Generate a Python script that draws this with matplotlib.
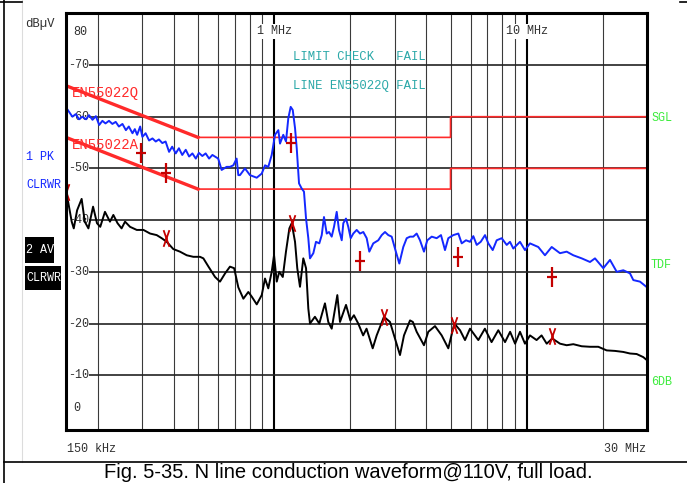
import matplotlib
matplotlib.use("Agg")
import matplotlib.pyplot as plt
from matplotlib.path import Path
from matplotlib.lines import Line2D
from matplotlib.patches import Rectangle

W, H = 687, 483

# limit lines EN55022 (MHz, dBuV)
limit_freq = [0.15, 0.5, 5.0, 5.0, 30.0]
limit_qp = [66, 56, 56, 60, 60]
limit_av = [56, 46, 46, 50, 50]

# trace 1: peak (blue)
pk_freq = [0.150, 0.154, 0.159, 0.164, 0.169, 0.174, 0.180, 0.185, 0.191, 0.197,
           0.203, 0.209, 0.215, 0.222, 0.229, 0.236, 0.243, 0.251, 0.259, 0.266,
           0.275, 0.281, 0.287, 0.295, 0.301, 0.310, 0.320, 0.330, 0.340, 0.350,
           0.361, 0.372, 0.384, 0.395, 0.408, 0.420, 0.433, 0.447, 0.461, 0.475,
           0.490, 0.504, 0.520, 0.536, 0.553, 0.570,
           0.601, 0.620, 0.649, 0.669, 0.690, 0.711, 0.722, 0.733, 0.767, 0.803,
           0.854, 0.894, 0.921, 0.949, 0.979, 1.009, 1.040, 1.056, 1.088, 1.115,
           1.139, 1.164, 1.186, 1.211, 1.230, 1.256, 1.287, 1.314, 1.339, 1.367,
           1.388, 1.431, 1.466, 1.511, 1.545, 1.577, 1.617, 1.651, 1.692, 1.728,
           1.771, 1.808, 1.854, 1.881, 1.927, 1.968, 2.012, 2.060, 2.125, 2.190,
           2.257, 2.328, 2.384, 2.472, 2.588, 2.670, 2.751, 2.835, 2.924, 3.013,
           3.134, 3.250, 3.353, 3.456, 3.561, 3.672, 3.785, 3.925, 4.046, 4.212,
           4.407, 4.584, 4.754, 4.900, 5.129, 5.369, 5.537, 5.758, 5.972, 6.155,
           6.349, 6.585, 6.849, 7.058, 7.346, 7.618, 7.973, 8.347, 8.600,
           8.863, 9.421, 9.860, 10.32, 11.13, 11.83, 12.58, 13.57, 14.42, 15.32,
           16.54, 17.84, 18.67, 20.14, 21.41, 22.76, 24.17, 25.69, 26.48, 28.14,
           30.0]
pk_level = [61.8, 61.0, 60.0, 60.5, 59.5, 60.0, 59.5, 60.3, 59.4, 60.1,
            58.4, 59.2, 58.7, 59.2, 58.6, 59.0, 58.1, 58.6, 57.4, 58.1,
            56.8, 57.6, 56.5, 58.1, 56.1, 56.8, 55.4, 55.8, 55.2, 55.6,
            54.9, 55.2, 53.2, 54.2, 52.9, 53.9, 52.6, 53.6, 52.3, 52.9,
            51.9, 53.0, 52.4, 52.9, 51.9, 52.6,
            51.9, 49.7, 50.3, 50.3, 50.6, 51.9, 48.7, 48.7, 50.0, 48.7,
            48.2, 49.0, 50.6, 50.3, 52.6, 56.5, 57.4, 54.8, 56.5, 55.2,
            59.7, 61.9, 61.3, 57.8, 53.9, 47.1, 46.1, 45.5, 40.3, 36.5,
            32.6, 33.6, 35.8, 35.5, 37.1, 40.6, 37.4, 37.7, 36.8, 38.7,
            41.6, 38.1, 36.1, 39.4, 40.3, 38.7, 36.5, 37.4, 38.1, 37.4,
            37.7, 36.5, 33.9, 35.5, 36.1, 37.1, 37.7, 37.1, 36.8, 34.5,
            31.6, 34.8, 36.5, 36.8, 36.8, 37.4, 36.1, 33.9, 36.1, 36.8,
            36.5, 37.1, 34.2, 36.5, 37.1, 37.4, 35.5, 36.1, 35.8, 36.9,
            35.2, 35.8, 37.1, 35.5, 34.2, 36.1, 36.5, 35.2, 35.8,
            34.5, 35.8, 34.2, 35.5, 34.8, 33.2, 34.8, 33.6, 33.9, 33.2,
            32.6, 31.9, 32.6, 30.7, 32.3, 30.0, 30.3, 29.7, 28.4, 28.1,
            27.0]

# trace 2: average (black)
av_freq = [0.150, 0.153, 0.158, 0.161, 0.166, 0.173, 0.178, 0.184, 0.192, 0.199,
           0.205, 0.214, 0.224, 0.231, 0.240, 0.249, 0.257, 0.269, 0.286, 0.304,
           0.323, 0.343, 0.359, 0.376, 0.399, 0.424, 0.451, 0.479, 0.509, 0.525,
           0.550, 0.584, 0.611, 0.640, 0.669, 0.695, 0.722, 0.756, 0.791, 0.816,
           0.854, 0.894, 0.921, 0.949, 0.979, 1.000, 1.025, 1.049, 1.083, 1.115,
           1.150, 1.175, 1.211, 1.236, 1.267, 1.306, 1.339, 1.367, 1.388, 1.452,
           1.511, 1.591, 1.640, 1.692, 1.781, 1.825, 1.928, 2.006, 2.072, 2.155,
           2.254, 2.325, 2.459, 2.550, 2.725, 2.879, 3.013, 3.154, 3.271, 3.456,
           3.547, 3.672, 3.925, 4.082, 4.340, 4.613, 4.900, 5.176, 5.454, 5.706,
           5.972, 6.443, 6.84, 7.27, 7.73, 8.22, 8.61, 9.01, 9.421, 9.860,
           10.32, 10.96, 11.47, 12.02, 12.65, 13.57, 14.42, 15.32, 16.54, 17.84,
           19.24, 20.77, 22.41, 24.17, 25.69, 27.30, 29.0, 30.0]
av_level = [45.0, 43.5, 39.7, 38.4, 41.9, 44.1, 39.7, 38.4, 42.6, 39.4,
            38.7, 41.6, 39.7, 41.0, 39.4, 38.4, 39.7, 38.7, 38.1, 38.1,
            37.4, 37.1, 36.5, 35.8, 34.4, 33.9, 33.2, 32.9, 32.9, 32.6,
            31.0, 29.0, 28.1, 29.7, 31.0, 30.7, 27.0, 24.8, 26.1, 25.2,
            23.7, 25.5, 28.7, 26.8, 30.0, 33.2, 28.1, 30.0, 29.0, 33.9,
            38.4, 39.4, 35.8, 30.7, 27.1, 32.6, 30.7, 22.9, 20.0, 21.3,
            20.0, 23.9, 20.3, 19.0, 25.5, 20.3, 23.6, 20.6, 21.6, 20.0,
            17.7, 19.0, 15.2, 17.7, 21.3, 20.3, 17.1, 13.9, 17.7, 20.6,
            20.3, 18.4, 15.8, 18.4, 19.5, 17.7, 15.2, 20.0, 18.7, 16.8,
            19.0, 16.8, 19.0, 16.4, 18.7, 16.4, 18.4, 16.1, 18.4, 16.1,
            17.7, 16.8, 17.7, 16.1, 17.1, 16.1, 15.8, 16.0, 15.6, 15.5,
            15.5, 14.8, 14.7, 14.5, 14.2, 14.1, 13.5, 12.9]

# final measurement markers
plus_freq = [0.297, 0.375, 1.164, 2.19, 5.34, 12.58]
plus_level = [52.9, 49.2, 54.9, 32.1, 32.8, 29.0]
x_freq = [0.15, 0.375, 1.18, 2.73, 5.18, 12.65]
x_level = [45.5, 36.5, 39.4, 21.3, 19.7, 17.6]

grid_minor = [0.2, 0.3, 0.4, 0.5, 0.6, 0.7, 0.8, 0.9,
              2, 3, 4, 5, 6, 7, 8, 9, 20]
grid_major = [1, 10]
grid_major_labels = ["1 MHz", "10 MHz"]
level_ticks = [10, 20, 30, 40, 50, 60, 70]

mono = "Liberation Mono"
blue = "#1428ff"
red = "#ff2a2a"
mark_red = "#c40000"
teal = "#2aa8a8"
green = "#3cec3c"


def fpx(x, y):
    # figure pixel -> figure fraction
    return x / W, 1 - y / H


fig = plt.figure(figsize=(W / 100, H / 100), dpi=100)
fig.patch.set_facecolor("white")

left, right, top, bottom = 66, 647, 13.3, 429.5
ax = fig.add_axes([left / W, 1 - bottom / H, (right - left) / W, (bottom - top) / H])
ax.set_xscale("log")
ax.set_xlim(0.15, 30)
ax.set_ylim(-0.5, 80)
ax.set_xticks([])
ax.set_yticks([])
ax.minorticks_off()
ax.tick_params(which="both", length=0, labelbottom=False, labelleft=False)
for s in ax.spines.values():
    s.set_linewidth(2.2)
    s.set_color("black")
    s.set_zorder(10)

# grid
for f in grid_minor:
    ax.axvline(f, color="#3a3a3a", lw=0.8, zorder=1)
for f in grid_major:
    ax.axvline(f, color="black", lw=1.5, zorder=1)
for lv in level_ticks:
    ax.axhline(lv, color="#222222", lw=1.2, zorder=1)

ytr = ax.get_yaxis_transform()
xtr = ax.get_xaxis_transform()
for lv in level_ticks:
    ax.text(0.003, lv, "-%d" % lv, transform=ytr, ha="left", va="center",
            family=mono, fontsize=8.5, color="#303030", zorder=2,
            bbox=dict(facecolor="white", edgecolor="none", pad=0.3))
ax.text(0.012, 0.954, "80", transform=ax.transAxes, ha="left", va="center",
        family=mono, fontsize=8.5, color="#303030", zorder=2)
ax.text(0.012, 0.052, "0", transform=ax.transAxes, ha="left", va="center",
        family=mono, fontsize=8.5, color="#303030", zorder=2)
for f, lab in zip(grid_major, grid_major_labels):
    ax.text(f, 0.957, lab, transform=xtr, ha="center", va="center",
            family=mono, fontsize=8.5, color="#303030", zorder=2,
            bbox=dict(facecolor="white", edgecolor="none", pad=1.0))

# limits (sloped part drawn heavier)
ax.plot(limit_freq, limit_qp, color=red, lw=1.2, zorder=3)
ax.plot(limit_freq, limit_av, color=red, lw=1.2, zorder=3)
ax.plot(limit_freq[:2], limit_qp[:2], color=red, lw=2.4, zorder=3)
ax.plot(limit_freq[:2], limit_av[:2], color=red, lw=2.4, zorder=3)
ax.text(0.0103, 0.8085, "EN55022Q", transform=ax.transAxes, ha="left", va="center",
        family=mono, fontsize=10, color=red, zorder=3)
ax.text(0.0103, 0.6836, "EN55022A", transform=ax.transAxes, ha="left", va="center",
        family=mono, fontsize=10, color=red, zorder=3)

ax.text(0.3907, 0.894, "LIMIT CHECK   FAIL", transform=ax.transAxes, ha="left",
        va="center", family=mono, fontsize=8.8, color=teal, zorder=3)
ax.text(0.3907, 0.825, "LINE EN55022Q FAIL", transform=ax.transAxes, ha="left",
        va="center", family=mono, fontsize=8.8, color=teal, zorder=3)

# traces
ax.plot(pk_freq, pk_level, color=blue, lw=1.4, zorder=4)
ax.plot(av_freq, av_level, color="black", lw=1.4, zorder=4)

# markers: tall narrow "+" and "X"
plus_path = Path([(-0.5, 0), (0.5, 0), (0, -1), (0, 1)],
                 [Path.MOVETO, Path.LINETO, Path.MOVETO, Path.LINETO])
x_path = Path([(-0.35, -1), (0.35, 1), (-0.35, 1), (0.35, -1)],
              [Path.MOVETO, Path.LINETO, Path.MOVETO, Path.LINETO])
ax.plot(plus_freq, plus_level, ls="none", marker=plus_path, markersize=14,
        markeredgewidth=1.6, color=mark_red, zorder=5, clip_on=False)
ax.plot(x_freq, x_level, ls="none", marker=x_path, markersize=12,
        markeredgewidth=1.3, color=mark_red, zorder=5, clip_on=True)

# texts around the plot
fig.text(*fpx(25, 24), "dB\u00b5V", ha="left", va="center", family=mono,
         fontsize=8.8, color="#303030")
fig.text(*fpx(26, 157), "1 PK", ha="left", va="center", family=mono,
         fontsize=8.5, color=blue)
fig.text(*fpx(26, 185), "CLRWR", ha="left", va="center", family=mono,
         fontsize=8.5, color=blue)
for (x0, y0, x1, y1), lab in [((25, 237, 54, 263), "2 AV"),
                              ((25, 266, 61, 290), "CLRWR")]:
    fig.add_artist(Rectangle(fpx(x0, y1), (x1 - x0) / W, (y1 - y0) / H,
                             transform=fig.transFigure, facecolor="black",
                             edgecolor="none"))
    fig.text(*fpx(x0 + 1.5, (y0 + y1) / 2), lab, ha="left", va="center",
             family=mono, fontsize=8.5, color="white")
fig.text(*fpx(651, 118), "SGL", ha="left", va="center", family=mono,
         fontsize=8.5, color=green)
fig.text(*fpx(651, 265), "TDF", ha="left", va="center", family=mono,
         fontsize=8.5, color=green)
fig.text(*fpx(651, 382), "6DB", ha="left", va="center", family=mono,
         fontsize=8.5, color=green)
fig.text(*fpx(67, 449), "150 kHz", ha="left", va="center", family=mono,
         fontsize=8.5, color="#303030")
fig.text(*fpx(646, 449), "30 MHz", ha="right", va="center", family=mono,
         fontsize=8.5, color="#303030")

# surrounding table lines and caption
fig.add_artist(Line2D([4 / W, 4 / W], [0, 1], color="black", lw=1.2))
fig.add_artist(Line2D([22 / W, 22 / W], [1 - 462 / H, 1], color="#dcdcdc", lw=0.8))
fig.add_artist(Line2D([0, 22 / W], [1 - 1.5 / H, 1 - 1.5 / H], color="black", lw=1.2))
fig.add_artist(Line2D([680 / W, 1], [1 - 1.5 / H, 1 - 1.5 / H], color="black", lw=1.2))
fig.add_artist(Line2D([4 / W, 1], [1 - 462 / H, 1 - 462 / H], color="black", lw=1.2))
fig.text(*fpx(348, 478.5), "Fig. 5-35. N line conduction waveform@110V, full load.",
         ha="center", va="baseline", family="Liberation Sans", fontsize=14.5,
         color="black")

fig.savefig("out.png", dpi=100, facecolor="white")
